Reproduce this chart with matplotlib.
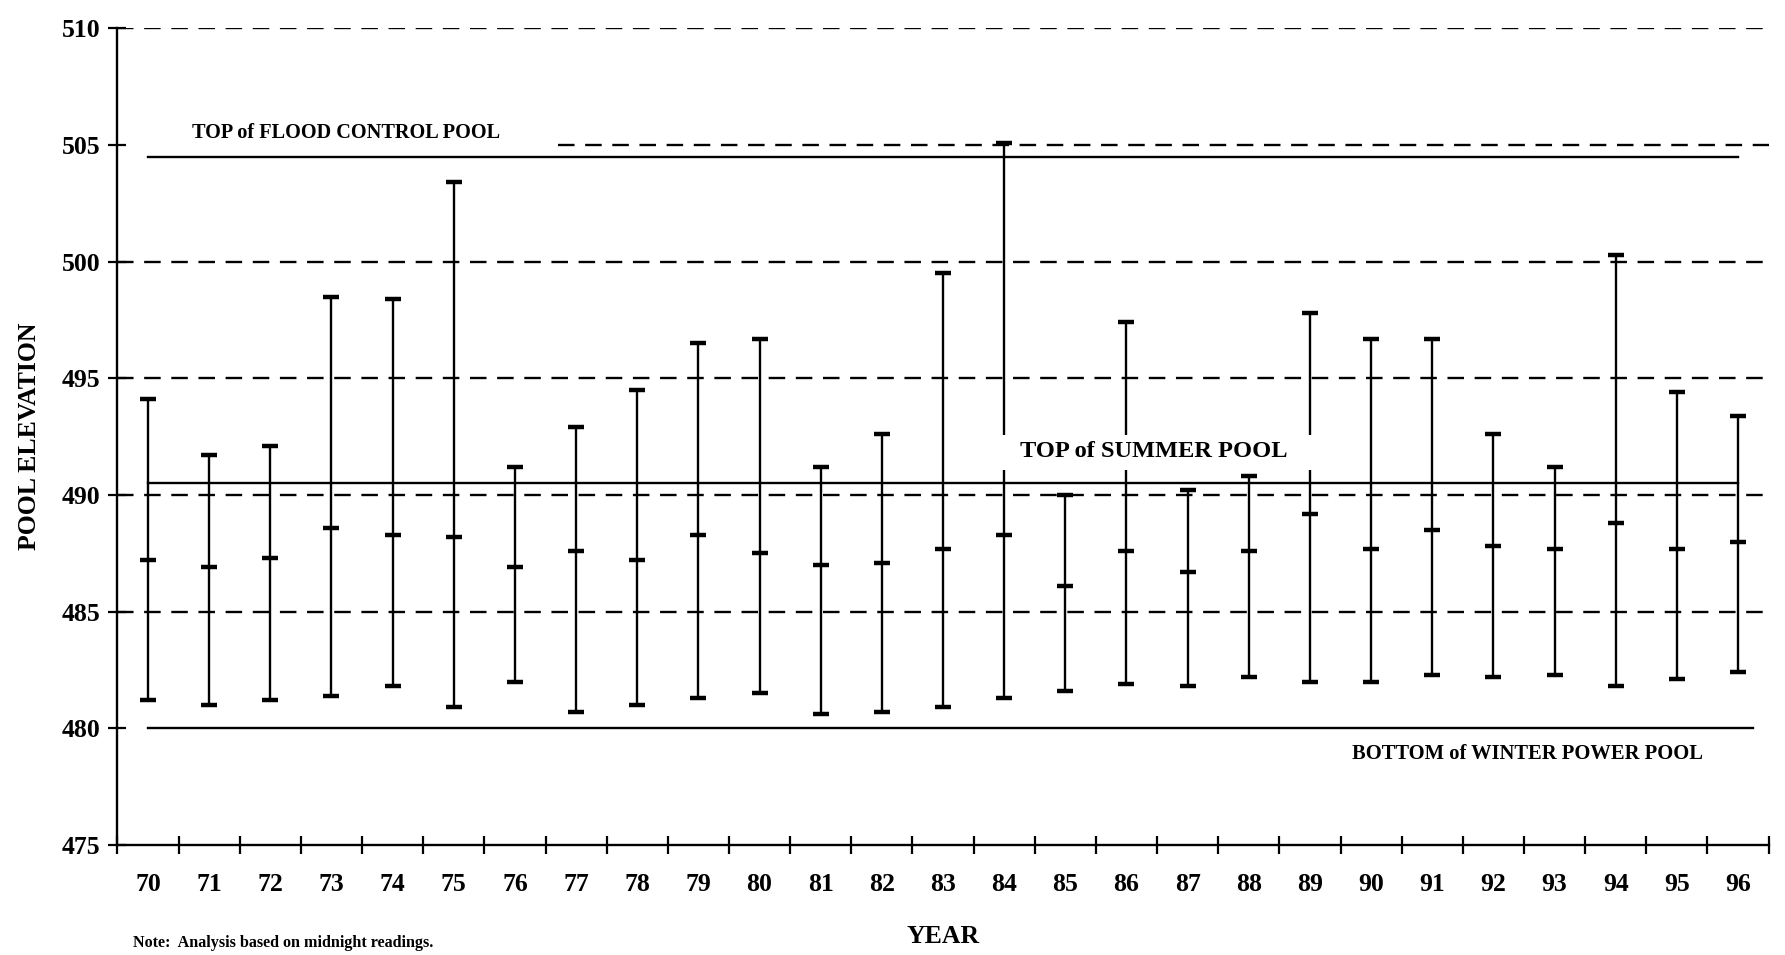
import numpy as np
import matplotlib
matplotlib.use('Agg')
import matplotlib.pyplot as plt
from matplotlib.patches import Rectangle

plt.rcParams['font.family'] = 'Liberation Serif'
plt.rcParams['font.weight'] = 'bold'
plt.rcParams['axes.labelweight'] = 'bold'

# yearly pool elevation: max, mean and min (midnight readings)
years = list(range(70, 97))
pool_max = [494.1, 491.7, 492.1, 498.5, 498.4, 503.4, 491.2, 492.9, 494.5, 496.5,
            496.7, 491.2, 492.6, 499.5, 505.1, 490.0, 497.4, 490.2, 490.8, 497.8,
            496.7, 496.7, 492.6, 491.2, 500.3, 494.4, 493.4]
pool_mean = [487.2, 486.9, 487.3, 488.6, 488.3, 488.2, 486.9, 487.6, 487.2, 488.3,
             487.5, 487.0, 487.1, 487.7, 488.3, 486.1, 487.6, 486.7, 487.6, 489.2,
             487.7, 488.5, 487.8, 487.7, 488.8, 487.7, 488.0]
pool_min = [481.2, 481.0, 481.2, 481.4, 481.8, 480.9, 482.0, 480.7, 481.0, 481.3,
            481.5, 480.6, 480.7, 480.9, 481.3, 481.6, 481.9, 481.8, 482.2, 482.0,
            482.0, 482.3, 482.2, 482.3, 481.8, 482.1, 482.4]

flood_top = 504.5
summer_top = 490.5
winter_bottom = 480.0
grid_levels = [485, 490, 495, 500, 510]

fig = plt.figure(figsize=(17.85, 9.55), dpi=100)
ax = fig.add_axes([0.0658, 0.1152, 0.925, 0.8552])

# dashed grid lines
for lvl in grid_levels:
    ax.plot([69.5, 96.5], [lvl, lvl], color='black', lw=1.7, dashes=(7, 4.5), zorder=1)
ax.plot([76.7, 96.5], [505, 505], color='black', lw=1.7, dashes=(7, 4.5), zorder=1)

# pool limits
ax.plot([70, 96], [flood_top, flood_top], color='black', lw=1.7, zorder=1)
ax.plot([70, 96], [summer_top, summer_top], color='black', lw=1.7, zorder=1)
ax.plot([70, 96.25], [winter_bottom, winter_bottom], color='black', lw=1.7, zorder=1)

# range bars with max / mean / min ticks
ax.vlines(years, pool_min, pool_max, color='black', lw=1.7, zorder=2)
for vals in (pool_max, pool_mean, pool_min):
    ax.plot(years, vals, ls='none', marker='_', ms=11, mew=3.2, color='black', zorder=2)

ax.text(70.72, 505.5, 'TOP of FLOOD CONTROL POOL', fontsize=14.6, va='center', ha='left')
ax.add_patch(Rectangle((83.8, 491.07), 5.3, 1.5, facecolor='white', edgecolor='none', zorder=3))
ax.text(84.26, 491.85, 'TOP of SUMMER POOL', fontsize=17.6, va='center', ha='left', zorder=4)
ax.text(89.69, 478.92, 'BOTTOM of WINTER POWER POOL', fontsize=14.8, va='center', ha='left')

ax.set_xlim(69.5, 96.5)
ax.set_ylim(475, 510)
ax.set_xticks(years)
ax.set_xticklabels([str(y) for y in years], fontsize=18.5)
ax.set_xticks(np.arange(69.5, 97, 1), minor=True)
ax.tick_params(axis='x', which='major', length=0, pad=20)
ax.tick_params(axis='x', which='minor', direction='inout', length=13, width=1.6)
ax.set_yticks(range(475, 511, 5))
ax.tick_params(axis='y', labelsize=18.5, direction='inout', length=13, width=1.6, pad=6)

for s in ['top', 'right']:
    ax.spines[s].set_visible(False)
for s in ['left', 'bottom']:
    ax.spines[s].set_linewidth(1.7)

ax.set_ylabel('POOL ELEVATION', fontsize=18.5)
ax.yaxis.set_label_coords(-0.0465, 0.5)
ax.set_xlabel('YEAR', fontsize=18.5)
ax.xaxis.set_label_coords(0.5, -0.098)

fig.text(0.0745, 0.0127, 'Note:  Analysis based on midnight readings.', fontsize=11.6, va='center', ha='left')

fig.savefig('out.png', dpi=100)
